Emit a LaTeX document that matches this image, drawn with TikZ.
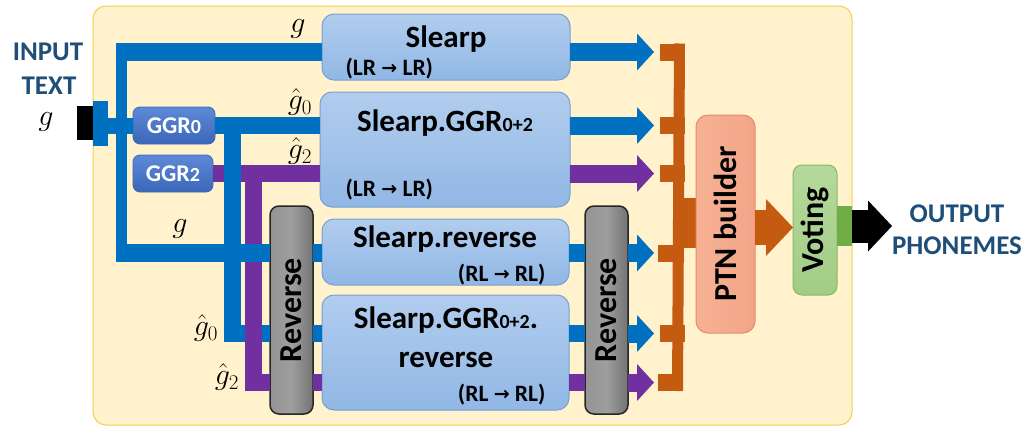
\RequirePackage{fix-cm}
\documentclass[tikz,border=0pt]{standalone}
\usepackage{fontspec}
\setmainfont{Carlito}
\newfontfamily\arrowfont{DejaVu Sans}
\usetikzlibrary{arrows.meta}

\definecolor{cblue}{HTML}{0070C0}
\definecolor{cpurple}{HTML}{7030A0}
\definecolor{corange}{HTML}{C55A11}
\definecolor{cnavy}{HTML}{1F4E79}
\definecolor{panelfill}{HTML}{FFF2CC}
\definecolor{paneldraw}{HTML}{F2D04A}
\definecolor{boxtop}{HTML}{B1CDEE}
\definecolor{boxbot}{HTML}{91B7E5}
\definecolor{boxdraw}{HTML}{7A9FD0}
\definecolor{ggrtop}{HTML}{5D8AD8}
\definecolor{ggrbot}{HTML}{3C66B8}
\definecolor{ptnleft}{HTML}{F6B293}
\definecolor{ptnright}{HTML}{F4A488}
\definecolor{ptndraw}{HTML}{E48B6C}
\definecolor{votetop}{HTML}{B5D99C}
\definecolor{votebot}{HTML}{A2CC86}
\definecolor{votedraw}{HTML}{86BA63}
\definecolor{cgreen}{HTML}{70AD47}

% text sizes (picture units are 1pt = 1px)
\newcommand\titlefont{\fontsize{31}{31}\selectfont\bfseries}
\newcommand\smallpart[1]{{\fontsize{20}{20}\selectfont #1}}
\newcommand\dirfont{\fontsize{23.5}{23.5}\selectfont\bfseries}
\newcommand\dirarrow{{\arrowfont\fontsize{19}{19}\selectfont\raisebox{1pt}{→}}}
\newcommand\mathsize{\fontsize{30}{30}\selectfont}

\tikzset{
  anybox/.style={rounded corners=12, inner sep=0pt, outer sep=0pt, anchor=north west},
  modelbox/.style={anybox, draw=boxdraw, line width=1pt, top color=boxtop, bottom color=boxbot},
  ggrbox/.style={anybox, rounded corners=7, draw=ggrbot, line width=0.8pt,
                 top color=ggrtop, bottom color=ggrbot, text=white,
                 font=\fontsize{24}{24}\selectfont\bfseries},
  revbox/.style={anybox, rounded corners=9, draw=black!85, line width=1.5pt,
                 left color=black!42, right color=black!55, middle color=black!38},
  ptnbox/.style={anybox, draw=ptndraw, line width=1pt, left color=ptnleft, right color=ptnright},
  votebox/.style={anybox, rounded corners=9, draw=votedraw, line width=1pt,
                  top color=votetop, bottom color=votebot},
  block/.style={inner sep=0pt, outer sep=0pt, anchor=north west, fill=#1},
  hbus/.style={line width=18pt, color=#1},
  vbus/.style={line width=11pt, color=#1},
  branch/.style={line width=17pt, color=#1, line join=miter},
  feed/.style={line width=18pt, color=#1,
               -{Triangle[length=17pt, width=37pt, line width=0pt]}},
  biglabel/.style={text=cnavy, font=\fontsize{27}{27}\selectfont\bfseries, anchor=base},
  mlabel/.style={font=\mathsize, inner sep=0pt},
}

\begin{document}
\begin{tikzpicture}[x=1pt, y=-1pt]
\useasboundingbox (0,0) rectangle (1032,426);

% background panel
\node[anybox, rounded corners=13, fill=panelfill, draw=paneldraw, line width=1pt,
      minimum width=759, minimum height=419] (panel) at (93,6) {};

% input plug
\node[block=black, minimum width=16, minimum height=34] (inplug) at (77,106) {};
\node[block=cblue, minimum width=15, minimum height=45] (injack) at (93,101) {};

% grapheme rewriting blocks
\node[ggrbox, minimum width=82, minimum height=37] (ggrA) at (133,107)
  {GGR\smallpart{0}};
\node[ggrbox, minimum width=80, minimum height=37] (ggrB) at (133,155)
  {GGR\smallpart{2}};

% model boxes
\node[modelbox, minimum width=248, minimum height=66]  (slearp)   at (322,14)  {};
\node[modelbox, minimum width=250, minimum height=115] (slggr)    at (320,92)  {};
\node[modelbox, minimum width=247, minimum height=66]  (slrev)    at (322,219) {};
\node[modelbox, minimum width=247, minimum height=115] (slggrrev) at (322,295) {};

% reverse blocks
\node[revbox, minimum width=43, minimum height=208] (revL) at (270,206)
  {\rotatebox{90}{\fontsize{32}{32}\selectfont\bfseries Reverse}};
\node[revbox, minimum width=43, minimum height=208] (revR) at (585,206)
  {\rotatebox{90}{\fontsize{32}{32}\selectfont\bfseries Reverse}};

% orange collector stubs
\node[block=corange, minimum width=25, minimum height=17] (st1) at (660,43.5)  {};
\node[block=corange, minimum width=25, minimum height=17] (st2) at (660,117)   {};
\node[block=corange, minimum width=25, minimum height=17] (st3) at (660,165)   {};
\node[block=corange, minimum width=25, minimum height=17] (st4) at (658,244.5) {};
\node[block=corange, minimum width=25, minimum height=17] (st5) at (660,325)   {};
\node[block=corange, minimum width=25, minimum height=17] (st6) at (658,374)   {};
\node[block=corange, minimum width=24, minimum height=50] (joint) at (673,198) {};

% lattice builder and voting
\node[ptnbox, minimum width=59, minimum height=218] (ptn) at (696,115)
  {\rotatebox{90}{\fontsize{32}{32}\selectfont\bfseries PTN builder}};
\node[votebox, minimum width=44, minimum height=130] (voting) at (793,165)
  {\rotatebox{90}{\fontsize{32}{32}\selectfont\bfseries Voting}};
\node[block=cgreen, minimum width=15, minimum height=40] (vstub) at (837,206) {};

% branch points and output tip
\coordinate (gT) at (121.5,52);
\coordinate (gB) at (121.5,252.5);
\coordinate (b0) at (232,125.5);
\coordinate (b2) at (253,173.5);
\coordinate (outtip) at (892,226);

% ---- connectors ----
% input into GGR0
\draw[line width=16pt, cblue] (injack.east |- ggrA.west) -- (ggrA.west);
% g line: vertical spine and top branch
\draw[vbus=cblue] ([yshift=9pt]gT) -- ([yshift=-9.5pt]gB);
\draw[hbus=cblue] ([xshift=-5.5pt]gT) -- (slearp.west |- gT);
% GGR2 output (purple) under the blue spine
\draw[branch=cpurple] (ggrB.east) -- (slggr.west |- ggrB.east);
% GGR0 output and its reversed branch
\draw[branch=cblue] (ggrA.east) -- (slggr.west |- ggrA.east);
\draw[branch=cblue] (b0) -- (b0 |- st5) -- (revL.west |- st5);
% GGR2 reversed branch
\draw[branch=cpurple] (b2) -- (b2 |- st6) -- (revL.west |- st6);
% g line: lower branch
\draw[hbus=cblue] ([xshift=-5.5pt]gB) -- (revL.west |- gB);

% between left reverse and reverse models
\draw[hbus=cblue]   (revL.east |- gB)  -- (slrev.west |- gB);
\draw[branch=cblue] (revL.east |- st5) -- (slggrrev.west |- st5);
\draw[branch=cpurple] (revL.east |- st6) -- (slggrrev.west |- st6);
% between reverse models and right reverse
\draw[hbus=cblue]   (slrev.east |- gB)     -- (revR.west |- gB);
\draw[branch=cblue] (slggrrev.east |- st5) -- (revR.west |- st5);
\draw[branch=cpurple] (slggrrev.east |- st6) -- (revR.west |- st6);

% output arrows into the collector
\draw[feed=cblue]   (slearp.east |- st1) -- ([xshift=-6pt]st1.west);
\draw[feed=cblue]   (slggr.east |- st2)  -- ([xshift=-6pt]st2.west);
\draw[feed=cpurple] (slggr.east |- st3)  -- ([xshift=-6pt]st3.west);
\draw[feed=cblue]   (revR.east |- st4)   -- ([xshift=-4pt]st4.west);
\draw[feed=cblue]   (revR.east |- st5)   -- ([xshift=-6pt]st5.west);
\draw[feed=cpurple] (revR.east |- st6)   -- ([xshift=-4pt]st6.west);

% collector spine
\draw[vbus=corange] ([xshift=-5.5pt]st1.north east) -- ([xshift=-5.5pt]st6.south east);

% PTN builder to voting, voting to output
\draw[corange, line width=35pt, -{Triangle[length=27pt, width=57pt, line width=0pt]}]
  (ptn.east |- 0,227.5) -- (voting.west |- 0,227.5);
\draw[black, line width=33pt, -{Triangle[length=24pt, width=51pt, line width=0pt]}]
  (vstub.east) -- (outtip);

% ---- texts ----
\node[biglabel] (inA) at (48,60) {INPUT};
\node[biglabel] (inB) at (49,94) {TEXT};
\node[mlabel] (gin) at (46,122) {$g$};

\node[biglabel] (outA) at (957,222) {OUTPUT};
\node[biglabel] (outB) at (957,254) {PHONEMES};

\node[mlabel] (lg1)  at (298,29)  {$g$};
\node[mlabel] (lh0)  at (300,102) {$\hat{g}_0$};
\node[mlabel] (lh2)  at (300,151) {$\hat{g}_2$};
\node[mlabel] (lg2)  at (180,229) {$g$};
\node[mlabel] (lh0b) at (206,328) {$\hat{g}_0$};
\node[mlabel] (lh2b) at (227,377) {$\hat{g}_2$};

\node[anchor=base, font=\titlefont] (t1) at (446,47) {Slearp};
\node[anchor=base west, font=\dirfont] (d1) at (342,75) {(LR \dirarrow{} LR)};

\node[anchor=base, font=\titlefont] (t2) at (445,131) {Slearp.GGR\smallpart{0+2}};
\node[anchor=base west, font=\dirfont] (d2) at (342,196) {(LR \dirarrow{} LR)};

\node[anchor=base, font=\titlefont] (t3) at (445,247) {Slearp.reverse};
\node[anchor=base east, font=\dirfont] (d3) at (549,281) {(RL \dirarrow{} RL)};

\node[anchor=base, font=\titlefont] (t4) at (446,328) {Slearp.GGR\smallpart{0+2}.};
\node[anchor=base, font=\titlefont] (t5) at (446,367) {reverse};
\node[anchor=base east, font=\dirfont] (d4) at (549,401) {(RL \dirarrow{} RL)};
\end{tikzpicture}
\end{document}
